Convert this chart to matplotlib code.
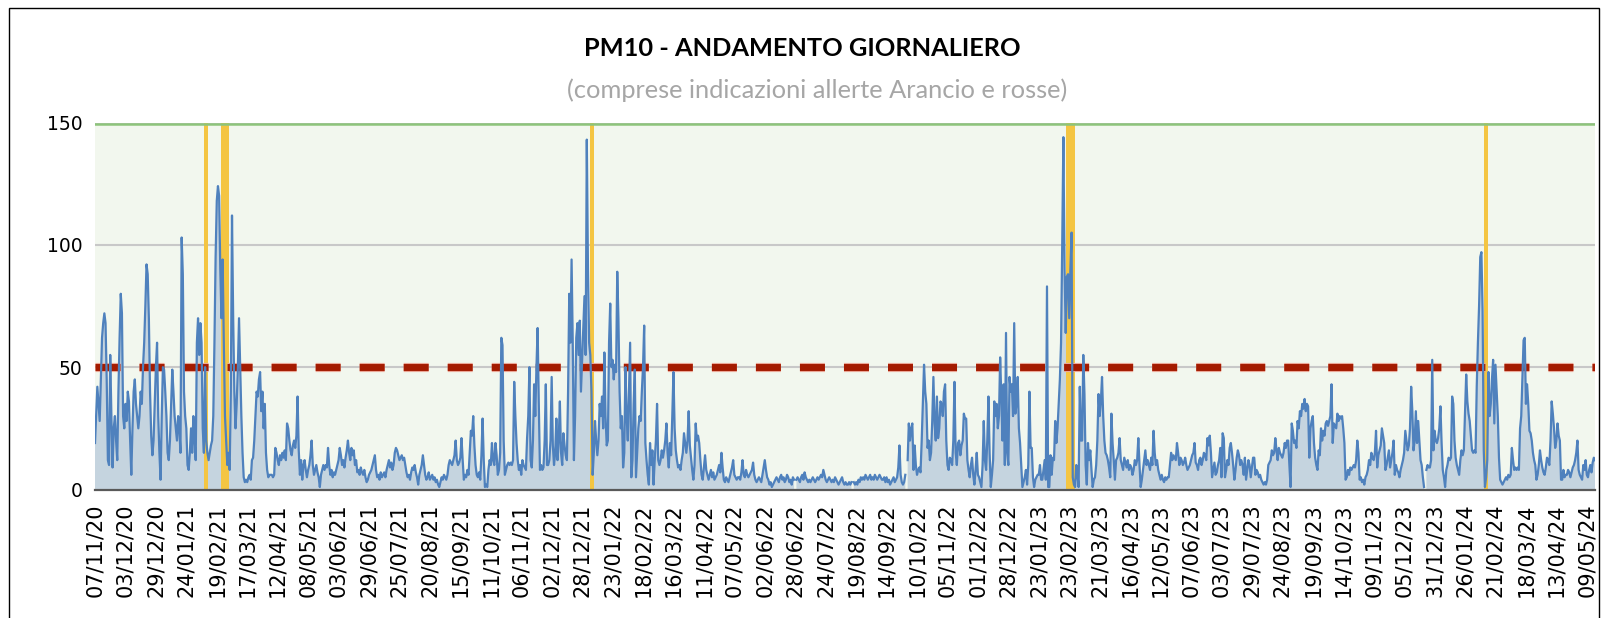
import numpy as np
import matplotlib
matplotlib.use("Agg")
from matplotlib import pyplot as plt
from matplotlib.patches import Rectangle

nan = np.nan

# valori giornalieri PM10, a blocchi di 160 giorni
pm10_a = [19, 30, 42, 35, 28, 45, 62, 68, 72, 68,
          45, 12, 10, 55, 30, 9, 25, 30, 20, 12,
          40, 62, 80, 72, 30, 25, 35, 28, 40, 36,
          20, 6, 25, 40, 45, 35, 30, 25, 30, 40,
          35, 50, 60, 75, 92, 88, 70, 40, 22, 14,
          20, 35, 50, 60, 30, 15, 4, 30, 50, 49,
          40, 30, 15, 12, 20, 35, 49, 40, 30, 25,
          20, 30, 25, 15, 103, 88, 40, 30, 25, 10,
          8, 15, 25, 15, 30, 20, 12, 60, 70, 55,
          68, 60, 25, 15, 50, 20, 15, 12, 15, 18,
          20, 30, 60, 95, 118, 124, 120, 90, 70, 94,
          60, 30, 20, 10, 15, 8, 40, 112, 70, 40,
          25, 35, 50, 70, 50, 30, 15, 5, 3, 4,
          3, 5, 6, 4, 12, 13, 20, 30, 40, 38,
          45, 48, 32, 40, 25, 35, 15, 8, 5, 6,
          6, 6, 5, 6, 17, 15, 12, 10, 14, 12]
pm10_b = [15, 13, 16, 12, 27, 25, 20, 16, 14, 18,
          20, 17, 22, 38, 16, 6, 12, 4, 10, 12,
          8, 5, 8, 10, 14, 20, 10, 6, 8, 10,
          7, 5, 1, 6, 8, 10, 8, 10, 9, 17,
          10, 6, 8, 5, 7, 6, 8, 10, 12, 17,
          14, 10, 12, 9, 13, 16, 20, 15, 12, 17,
          14, 16, 10, 12, 7, 8, 6, 9, 7, 6,
          8, 5, 3, 4, 6, 7, 8, 10, 12, 14,
          8, 5, 6, 4, 7, 5, 6, 7, 5, 8,
          10, 12, 9, 11, 8, 10, 15, 17, 16, 14,
          12, 13, 14, 12, 13, 10, 7, 5, 6, 4,
          7, 9, 8, 10, 7, 5, 2, 6, 8, 10,
          14, 10, 6, 4, 5, 7, 4, 5, 6, 4,
          5, 3, 4, 2, 1, 3, 5, 4, 6, 5,
          4, 6, 10, 12, 11, 10, 12, 14, 20, 12,
          10, 11, 13, 21, 12, 4, 6, 5, 8, 6]
pm10_c = [15, 24, 22, 30, 18, 10, 6, 5, 7, 4,
          14, 29, 12, 1, 2, 1, 8, 12, 10, 19,
          12, 10, 19, 14, 6, 8, 15, 62, 59, 20,
          6, 8, 10, 11, 10, 11, 10, 12, 44, 30,
          19, 12, 8, 10, 6, 12, 10, 9, 8, 21,
          30, 50, 12, 9, 20, 43, 30, 50, 66, 35,
          8, 10, 8, 9, 20, 43, 10, 10, 12, 20,
          46, 18, 10, 15, 29, 12, 20, 36, 15, 10,
          23, 18, 14, 12, 40, 80, 60, 94, 60, 12,
          30, 62, 68, 55, 69, 40, 53, 65, 79, 55,
          143, 90, 60, 55, 40, 6, 15, 28, 20, 14,
          20, 35, 30, 38, 25, 56, 30, 18, 20, 60,
          76, 50, 53, 45, 51, 48, 89, 70, 40, 25,
          30, 9, 15, 50, 30, 20, 40, 60, 5, 12,
          35, 49, 5, 15, 25, 30, 28, 40, 50, 67,
          19, 12, 6, 2, 19, 10, 16, 2, 12, 20]
pm10_d = [35, 12, 10, 12, 16, 13, 16, 20, 27, 15,
          9, 19, 14, 30, 48, 25, 16, 12, 9, 10,
          8, 12, 15, 23, 19, 15, 20, 32, 18, 13,
          8, 4, 10, 27, 20, 22, 19, 12, 6, 4,
          9, 14, 8, 6, 4, 6, 8, 5, 7, 4,
          5, 6, 8, 10, 7, 15, 9, 4, 3, 5,
          4, 3, 5, 7, 9, 12, 6, 5, 4, 5,
          5, 4, 7, 12, 6, 5, 8, 6, 5, 6,
          7, 8, 11, 6, 4, 3, 4, 5, 4, 3,
          6, 9, 12, 8, 5, 4, 2, 3, 1, 2,
          3, 4, 5, 4, 3, 5, 6, 4, 5, 3,
          4, 6, 5, 3, 4, 2, 5, 4, nan, 4,
          5, 4, 3, 5, 6, 4, 7, 5, 4, 3,
          4, 3, 4, 5, 4, 3, 4, 5, 4, 5,
          6, 5, 8, 6, 4, 3, 4, 5, 4, 3,
          4, 3, 5, 4, 3, 2, 3, 4, 5, 3]
pm10_e = [2, 3, 2, 2, 3, 2, 3, nan, 3, 2,
          3, 2, 4, 3, 5, 4, 5, 4, 6, 5,
          4, 5, 6, 4, 5, 4, 6, 5, 4, 5,
          6, 5, 4, 4, 5, 3, 5, 3, 4, 2,
          3, 4, 5, 3, 4, 5, 9, 18, 6, 3,
          2, 3, 6, nan, 12, 27, 20, 25, 27, 8,
          18, 10, 6, 8, 9, 7, 20, 36, 51, 40,
          35, 17, 20, 12, 15, 28, 46, 27, 20, 38,
          21, 25, 36, 35, 30, 40, 43, 20, 10, 8,
          13, 12, 10, 20, 44, 15, 10, 19, 20, 14,
          18, 20, 31, 29, 29, 12, 8, 5, 10, 13,
          6, 2, 8, 15, 6, 5, 3, 1, 10, 28,
          12, 8, 20, 38, 15, 1, 6, 12, 36, 30,
          35, 25, 30, 54, 38, 20, 43, 10, 64, 15,
          10, 46, 40, 43, 30, 68, 31, 35, 46, 25,
          19, 10, 1, 3, 5, 8, 2, 10, 40, 17]
pm10_f = [17, 5, 1, 4, 5, 6, 6, 10, 4, 4,
          8, 12, 4, 83, 1, 1, 14, 6, 13, 12,
          28, 19, 25, 35, 45, 60, 100, 144, 90, 64,
          87, 88, 70, 90, 105, 5, 2, 1, 10, 6,
          1, 42, 20, 20, 55, 39, 10, 2, 19, 12,
          16, 8, 1, 4, 5, 10, 20, 39, 30, 36,
          46, 30, 20, 15, 14, 12, 9, 5, 31, 19,
          12, 4, 12, 13, 15, 21, 12, 10, 8, 13,
          11, 9, 12, 8, 10, 9, 6, 8, 12, 10,
          12, 21, 10, 1, 4, 8, 12, 16, 10, 12,
          10, 8, 13, 10, 24, 15, 10, 12, 8, 6,
          4, 6, 4, 3, 5, 4, 5, 5, 10, 15,
          12, 14, 13, 12, 19, 15, 10, 13, 12, 10,
          11, 13, 10, 8, 9, 10, 12, 14, 15, 19,
          11, 10, 8, 12, 13, 10, 12, 15, 14, 12,
          21, 18, 22, 15, 5, 8, 11, 6, 7, 10]
pm10_g = [12, 17, 5, 23, 21, 5, 8, 12, 10, 17,
          19, 15, 10, 4, 8, 13, 16, 14, 10, 12,
          10, 6, 13, 4, 8, 12, 10, 5, 9, 13,
          13, 6, 8, 7, 5, 6, 4, 3, 2, 3,
          2, 4, 10, 11, 12, 16, 14, 15, 21, 16,
          12, 17, 15, 14, 13, 15, 19, 17, 20, 20,
          10, 1, 27, 24, 19, 20, 17, 28, 25, 32,
          30, 35, 33, 37, 32, 35, 34, 13, 25, 28,
          30, 19, 13, 10, 8, 16, 14, 25, 20, 24,
          22, 27, 28, 26, 28, 30, 43, 19, 27, 26,
          25, 31, 28, 30, 29, 30, 25, 19, 4, 5,
          8, 6, 9, 8, 9, 10, 9, 12, 20, 15,
          4, 5, 3, 4, 2, 5, 6, 8, 12, 10,
          15, 13, 12, 15, 24, 9, 14, 16, 18, 25,
          22, 19, 8, 10, 13, 16, 9, 12, 15, 20,
          6, 10, 8, 7, 5, 8, 10, 12, 15, 24]
pm10_h = [20, 16, 18, 25, 42, 32, 16, 20, 32, 19,
          28, 20, 12, 10, 5, 1, nan, 8, 10, 9,
          9, 12, 53, 16, 24, 20, 19, 21, 25, 34,
          19, 8, 5, 1, 8, 10, 13, 12, 13, 38,
          35, 20, 13, 10, 8, 6, 12, 16, 14, 16,
          32, 47, 36, 31, 28, 22, 16, 15, 16, 15,
          42, 60, 75, 95, 97, 73, 16, 1, 5, 12,
          48, 30, 35, 45, 53, 27, 51, 40, 30, 13,
          4, 3, 2, 3, 4, 5, 4, 6, 5, 6,
          17, 12, 8, 9, 8, 9, 8, 25, 30, 45,
          61, 62, 35, 43, 35, 24, 23, 20, 15, 12,
          10, 4, 6, 10, 16, 12, 9, 7, 6, 9,
          13, 12, 10, 20, 36, 31, 25, 17, 20, 27,
          22, 20, 4, 4, 8, 5, 6, 6, 8, 7,
          5, 7, 9, 10, 12, 15, 20, 8, 6, 5,
          4, 10, 8, 12, 6, 5, 8, 10, 7, 11,
          13, 12]

# giorni (indice) con allerta arancio/rossa
allerte = [94, 95, 96,
           108, 109, 110, 111, 112, 113, 114,
           423, 424, 425, 426,
           830, 831, 832, 833, 834, 835, 836,
           1187, 1188, 1189]

etichette = ['07/11/20', '03/12/20', '29/12/20', '24/01/21', '19/02/21', '17/03/21',
             '12/04/21', '08/05/21', '03/06/21', '29/06/21', '25/07/21', '20/08/21',
             '15/09/21', '11/10/21', '06/11/21', '02/12/21', '28/12/21', '23/01/22',
             '18/02/22', '16/03/22', '11/04/22', '07/05/22', '02/06/22', '28/06/22',
             '24/07/22', '19/08/22', '14/09/22', '10/10/22', '05/11/22', '01/12/22',
             '28/12/22', '23/01/23', '23/02/23', '21/03/23', '16/04/23', '12/05/23',
             '07/06/23', '03/07/23', '29/07/23', '24/08/23', '19/09/23', '14/10/23',
             '09/11/23', '05/12/23', '31/12/23', '26/01/24', '21/02/24', '18/03/24',
             '13/04/24', '09/05/24']
passo = 26
limite = 50
ymax = 150

pm10 = np.array(pm10_a + pm10_b + pm10_c + pm10_d + pm10_e + pm10_f + pm10_g + pm10_h, dtype=float)
giorni = np.arange(len(pm10))

plt.rcParams['lines.scale_dashes'] = False

W, H = 1602, 618
fig = plt.figure(figsize=(W / 100, H / 100), dpi=100)
ax = fig.add_axes([95 / W, 1 - 489.5 / H, 1500 / W, 367 / H])
ax.set_facecolor('#f2f7ee')

# area + linea
ax.fill_between(giorni, pm10, 0, color='#c5d4df', lw=0, zorder=1)
ax.bar(allerte, ymax, width=1.0, color='#f4c542', lw=0, zorder=2)
ax.axhline(limite, color='#eba898', lw=6.6, dashes=(18, 13.7), dash_capstyle='butt', zorder=3)
ax.axhline(limite, color='#a41b00', lw=5.0, dashes=(18, 13.7), dash_capstyle='butt', zorder=3)
ax.plot(giorni, pm10, color='#4f81bd', lw=1.6, zorder=4)
ax.axhline(ymax - 0.7, color='#8dc47b', lw=1.8, zorder=3)

ax.set_xlim(0, len(pm10) - 1)
ax.set_ylim(0, ymax)
ax.set_yticks([0, 50, 100, 150])
ax.yaxis.grid(True, color='#c8c8c8', lw=1.5)
ax.set_axisbelow(True)
ax.set_xticks(np.arange(len(etichette)) * passo)
ax.set_xticklabels(etichette, rotation=90)
ax.tick_params(axis='x', length=0, pad=10, labelsize=15)
ax.tick_params(axis='y', length=0, pad=9, labelsize=13.5)
for s in ['top', 'left', 'right']:
    ax.spines[s].set_visible(False)
ax.spines['bottom'].set_color('#595959')
ax.spines['bottom'].set_linewidth(1.6)
ax.spines['bottom'].set_zorder(5)

fig.text(0.501, 1 - 48 / H, 'PM10 - ANDAMENTO GIORNALIERO', ha='center', va='center',
         fontsize=18.3, fontweight='bold', family='Lato', color='#000000')
fig.text(0.51, 1 - 90 / H, '(comprese indicazioni allerte Arancio e rosse)', ha='center',
         va='center', fontsize=18.3, family='Lato', color='#a6a6a6')

# cornice del grafico
fig.add_artist(Rectangle((9 / W, -0.1), 1590 / W, 1.1 - 8 / H, transform=fig.transFigure,
                         fill=False, edgecolor='black', lw=1.0))

fig.savefig('out.png', dpi=100)
